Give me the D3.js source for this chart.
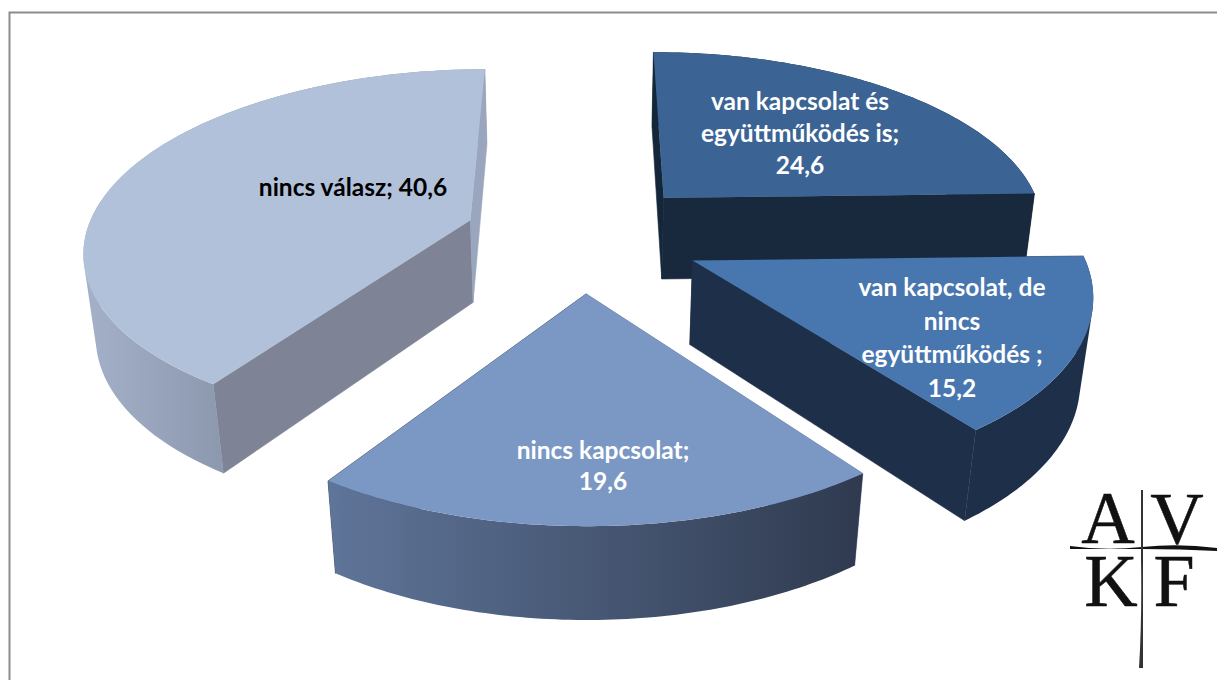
<!DOCTYPE html>
<html><head><meta charset="utf-8">
<script src="https://cdnjs.cloudflare.com/ajax/libs/d3/7.8.5/d3.min.js"></script>
<style>html,body{margin:0;padding:0;background:#fff;overflow:hidden}</style>
</head><body><svg id="c" width="1217" height="680"></svg>
<script>
const categories = ["van kapcsolat és együttműködés is","van kapcsolat, de nincs együttműködés ","nincs kapcsolat","nincs válasz"];
const values = [24.6, 15.2, 19.6, 40.6];
const valueLabels = ["24,6","15,2","19,6","40,6"];
const labelLines = [
  ["van kapcsolat és","együttműködés is;","24,6"],
  ["van kapcsolat, de","nincs","együttműködés ;","15,2"],
  ["nincs kapcsolat;","19,6"],
  ["nincs válasz; 40,6"]
];
const labelAnchors = [[800,110],[952,296],[603,459],[353,196]];
const lineSteps = [32,33.5,31,0];
const labelColors = ["#fff","#fff","#fff","#000"];
const topColors = ["#3b6494","#4876ae","#7b98c4","#b2c1da"];
const startWall = ["#14263a","#1e3049","#5f7599","#7e8496"];
const endWall = ["#18293d","#1e3049","#303b50","#99a6bd"];
const outerGrad = [["#18293d","#18293d"],["#1e3049","#1e3049"],["#5f7599","#2f3a4f"],["#a4b1c9","#8c98ae"]];

// perspective camera
const cx=583, cy=236, R=385, S=178, T=85, k=0.15, m=0.025, explode=0.31;
function proj(X,Y,Z){const w=1-k*Y+m*Z;return [cx+R*X/w, cy+(S*Y+T*Z)/w];}

const svg=d3.select("#c");
const defs=svg.append("defs");
const line=d3.line();
// frame
svg.append("path").attr("d","M9.5,680V12.5H1217").attr("fill","none").attr("stroke","#8c8c8c").attr("stroke-width",2);

const pie=d3.pie().sort(null).startAngle(0).endAngle(2*Math.PI)(values);
const drawOrder=[0,3,1,2];
drawOrder.forEach(i=>{
  const p=pie[i], mid=(p.startAngle+p.endAngle)/2;
  const ox=explode*Math.sin(mid), oy=-explode*Math.cos(mid);
  const g=svg.append("g");
  const angle=d3.scaleLinear().domain([0,1]).range([p.startAngle,p.endAngle]);
  const ts=d3.range(0,1.0001,1/80);
  const rim=z=>ts.map(t=>{const a=angle(t);return proj(ox+Math.sin(a),oy-Math.cos(a),z);});
  const apex=z=>proj(ox,oy,z);
  const r0=rim(0), r1=rim(1), n=r0.length-1;
  const faces=j=>Math.cos(angle(ts[j]))<0;
  // gradient spans the viewer-facing part of the outer wall
  const ext=d3.extent(r0.filter((q,j)=>faces(j)).concat(r1.filter((q,j)=>faces(j))),q=>q[0]);
  const id="og"+i;
  const gr=defs.append("linearGradient").attr("id",id).attr("gradientUnits","userSpaceOnUse")
    .attr("x1",ext[0]).attr("x2",ext[1]).attr("y1",0).attr("y2",0);
  gr.append("stop").attr("offset","0").attr("stop-color",outerGrad[i][0]);
  gr.append("stop").attr("offset","1").attr("stop-color",outerGrad[i][1]);
  // outer wall as consistently wound quads so the silhouette stays filled
  const wallPath=test=>{
    let d="";
    for(let j=0;j<n;j++){
      if(!test(j)) continue;
      let q=[r0[j],r0[j+1],r1[j+1],r1[j]];
      if(d3.polygonArea(q)<0) q=q.slice().reverse();
      d+=line(q)+"Z";
    }
    return d;
  };
  // back part of the rim, then radial walls, then the front part of the rim
  g.append("path").attr("d",wallPath(j=>!faces(j))).attr("fill","url(#"+id+")");
  g.append("path").attr("d",line([apex(0),r0[0],r1[0],apex(1)])+"Z").attr("fill",startWall[i]).attr("stroke",startWall[i]).attr("stroke-width",0.6);
  g.append("path").attr("d",line([apex(0),r0[n],r1[n],apex(1)])+"Z").attr("fill",endWall[i]).attr("stroke",endWall[i]).attr("stroke-width",0.6);
  g.append("path").attr("d",wallPath(faces)).attr("fill","url(#"+id+")");
  // top
  g.append("path").attr("d",line([apex(0)].concat(r0))+"Z").attr("fill",topColors[i]);
});
// labels
labelLines.forEach((ls,i)=>{
  const t=svg.append("text").attr("text-anchor","middle").attr("font-family","Lato, Carlito, sans-serif")
    .attr("font-weight",700).attr("font-size",24.5).attr("fill",labelColors[i]);
  ls.forEach((s,j)=>t.append("tspan").attr("x",labelAnchors[i][0]).attr("y",labelAnchors[i][1]+j*lineSteps[i]).text(s));
});
// logo
const logo=svg.append("g").attr("font-family","Liberation Serif, serif").attr("font-size",74).attr("fill","#111").attr("stroke","#111").attr("stroke-width",0.5).attr("text-anchor","middle");
[["A",1108,543],["V",1177,544],["K",1111,606],["F",1174,606]].forEach(d=>logo.append("text").attr("x",d[1]).attr("y",d[2]).text(d[0]));
svg.append("path").attr("d","M1070,546Q1105,551 1142,547T1217,548L1217,551Q1180,549 1142,549T1070,549Z").attr("fill","#111");
svg.append("path").attr("d","M1141,490L1143,490L1143,668L1139,668Q1142,620 1141,560Z").attr("fill","#333");
</script></body></html>
